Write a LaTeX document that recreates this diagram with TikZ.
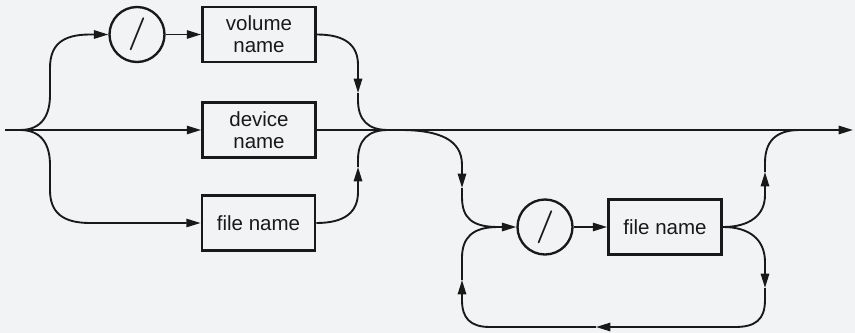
\documentclass[tikz,border=0pt]{standalone}
\usepackage{fontspec}
\newfontfamily\helv{Liberation Sans}
\usetikzlibrary{arrows.meta}
\definecolor{bgcol}{RGB}{242,243,245}
\definecolor{ink}{RGB}{25,25,25}
\begin{document}
\begin{tikzpicture}[x=0.03cm,y=-0.03cm,
  line/.style={draw=ink, line width=1.6pt},
  arr/.style={line, -{Triangle[length=0.43cm,width=0.25cm]}},
  term/.style={draw=ink, line width=2.4pt, minimum width=3.39cm, minimum height=1.65cm, align=center, inner sep=0pt, font=\helv\fontsize{17.5}{18.5}\selectfont, text=ink},
  slashc/.style={draw=ink, circle, line width=2pt, minimum size=1.65cm, inner sep=0pt, font=\bfseries\fontsize{28}{28}\selectfont, text=ink}]
\fill[bgcol] (0,0) rectangle (855,333);
\useasboundingbox (0,0) rectangle (855,333);
% nodes
\node[slashc] (c1) at (137,34.5) {/};
\node[term] (vol) at (259,34.5) {volume\\name};
\node[term] (dev) at (259,130) {device\\name};
\node[term] (f1) at (258.5,223) {file name};
\node[slashc] (c2) at (545,227) {/};
\node[term] (f2) at (665,227) {file name};
\coordinate (start) at (5,130);
\coordinate (split) at (20,130);
\coordinate (merge) at (388,130);
\coordinate (b1) at (400,130);
\coordinate (b2) at (800,130);
\coordinate (end) at (853,130);
% main line
\draw[line] (start) -- (split);
\draw[arr] (split) -- (dev.west);
\draw[line] (dev.east) -- (merge);
\draw[arr] (merge) -- (end);
% left fan
\draw[arr] (split) .. controls (42,130) and (50,115) .. (50,95) -- (50,68) .. controls (50,45) and (62,34.5) .. (90,34.5) -- (c1.west);
\draw[arr] (c1.east) -- (vol.west);
\draw[arr] (split) .. controls (42,130) and (50,145) .. (50,165) -- (50,190) .. controls (50,212) and (62,223) .. (90,223) -- (f1.west);
% right merge
\draw[arr] (vol.east) .. controls (345,34.5) and (358,45) .. (358,65) -- (358,93) coordinate (a1);
\draw[line] (a1) -- (358,100) .. controls (358,120) and (368,130) .. (merge);
\draw[arr] (f1.east) .. controls (345,223) and (358,212) .. (358,192) -- (358,167) coordinate (a2);
\draw[line] (a2) -- (358,160) .. controls (358,140) and (368,130) .. (merge);
% lower loop
\draw[arr] (b1) .. controls (440,130) and (462,140) .. (462,165) -- (462,188) coordinate (a3);
\draw[arr] (a3) -- (462,197) .. controls (462,218) and (472,227) .. (498,227) -- (c2.west);
\draw[arr] (c2.east) -- (f2.west);
\draw[arr] (f2.east) .. controls (750,227) and (765,215) .. (765,195) -- (765,172) coordinate (a4);
\draw[line] (a4) -- (765,163) .. controls (765,142) and (775,130) .. (b2);
\draw[arr] (f2.east) .. controls (750,227) and (765,240) .. (765,262) -- (765,288) coordinate (a5);
\draw[arr] (a5) -- (765,300) .. controls (765,320) and (755,327) .. (735,327) -- (596,327) coordinate (a6);
\draw[arr] (a6) -- (490,327) .. controls (470,327) and (462,318) .. (462,300) -- (462,280) coordinate (a7);
\draw[line] (a7) -- (462,258) .. controls (462,238) and (472,227) .. (498,227);
\end{tikzpicture}
\end{document}
